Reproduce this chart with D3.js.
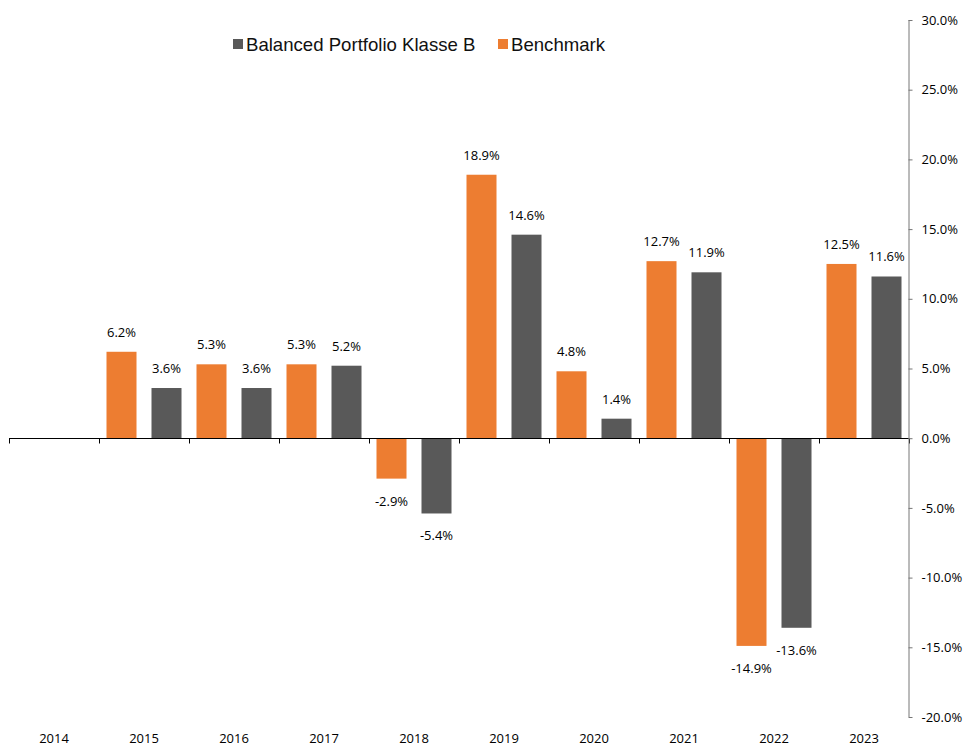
<!DOCTYPE html>
<html>
<head>
<meta charset="utf-8">
<script src="https://cdn.jsdelivr.net/npm/d3@7"></script>
<style>
    body { margin: 0; background: #fff; }
    .lbl { font-family: "Open Sans", sans-serif; font-size: 13px; fill: #000; }
    .legend { font-family: "Liberation Sans", Arial, sans-serif; font-size: 18.6px; fill: #111; }
</style>
</head>
<body>
<div id="chart"></div>
<script>
var years = ["2014", "2015", "2016", "2017", "2018", "2019", "2020", "2021", "2022", "2023"];
var benchmark = [null, 6.2, 5.3, 5.3, -2.9, 18.9, 4.8, 12.7, -14.9, 12.5];
var portfolio = [null, 3.6, 3.6, 5.2, -5.4, 14.6, 1.4, 11.9, -13.6, 11.6];
var yTicks = [30, 25, 20, 15, 10, 5, 0, -5, -10, -15, -20];

var colors = {benchmark: "#ED7D31", portfolio: "#595959"};

function drawChart() {

    var width = 968, height = 746;
    var left = 9, right = 909, top = 20, bottom = 717;

    var svg = d3.select("#chart").append("svg")
        .attr("width", width)
        .attr("height", height);

    var x = d3.scaleBand().domain(years).range([left, right]);
    var y = d3.scaleLinear().domain([-20, 30]).range([bottom, top]);

    var barW = 30, gap = 15;
    var inner = (x.bandwidth() - 2 * barW - gap) / 2;

    var series = [
        {name: "benchmark", values: benchmark, offset: inner},
        {name: "portfolio", values: portfolio, offset: inner + barW + gap}
    ];

    series.forEach(function (s) {
        var rows = years.map(function (yr, i) {
            return {year: yr, v: s.values[i]};
        }).filter(function (d) { return d.v !== null; });

        svg.selectAll(".bar-" + s.name).data(rows).enter().append("rect")
            .attr("x", function (d) { return x(d.year) + s.offset; })
            .attr("y", function (d) { return y(Math.max(0, d.v)); })
            .attr("width", barW)
            .attr("height", function (d) { return Math.abs(y(d.v) - y(0)); })
            .attr("fill", colors[s.name]);

        svg.selectAll(".val-" + s.name).data(rows).enter().append("text")
            .attr("class", "lbl")
            .attr("x", function (d) { return x(d.year) + s.offset + barW / 2; })
            .attr("y", function (d) { return d.v >= 0 ? y(d.v) - 15 : y(d.v) + 27; })
            .attr("text-anchor", "middle")
            .text(function (d) { return d.v.toFixed(1) + "%"; });
    });

    // x-Achse bei 0
    var y0 = Math.round(y(0)) + 0.5;
    svg.append("line")
        .attr("x1", left).attr("x2", right)
        .attr("y1", y0).attr("y2", y0)
        .attr("stroke", "#000").attr("stroke-width", 1);

    var bounds = years.map(function (yr) { return x(yr); }).concat([right]);
    svg.selectAll(".xtick").data(bounds).enter().append("line")
        .attr("x1", function (d) { return Math.round(d) + 0.5; })
        .attr("x2", function (d) { return Math.round(d) + 0.5; })
        .attr("y1", y0).attr("y2", y0 + 5)
        .attr("stroke", "#000");

    svg.selectAll(".year").data(years).enter().append("text")
        .attr("class", "lbl")
        .attr("x", function (d) { return x(d) + x.bandwidth() / 2; })
        .attr("y", 743)
        .attr("text-anchor", "middle")
        .text(function (d) { return d; });

    // y-Achse rechts
    var yAxis = d3.axisRight(y)
        .tickValues(yTicks)
        .tickSize(4)
        .tickPadding(9)
        .tickFormat(function (d) { return d.toFixed(1) + "%"; });

    var ga = svg.append("g")
        .attr("transform", "translate(" + (right - 0.5) + ",0)")
        .call(yAxis);
    ga.select(".domain").attr("stroke", "#767676").attr("d", "M0.5," + top + "V" + bottom);
    ga.selectAll(".tick line").attr("stroke", "#767676");
    ga.selectAll(".tick text").attr("class", "lbl").attr("fill", "#000");

    // Legende
    var legend = [
        {label: "Balanced Portfolio Klasse B", color: colors.portfolio, x: 233},
        {label: "Benchmark", color: colors.benchmark, x: 498}
    ];
    var lg = svg.selectAll(".lg").data(legend).enter().append("g");
    lg.append("rect")
        .attr("x", function (d) { return d.x; })
        .attr("y", 39).attr("width", 10).attr("height", 10)
        .attr("fill", function (d) { return d.color; });
    lg.append("text")
        .attr("class", "legend")
        .attr("x", function (d) { return d.x + 13; })
        .attr("y", 51)
        .text(function (d) { return d.label; });
}

drawChart();
</script>
</body>
</html>
